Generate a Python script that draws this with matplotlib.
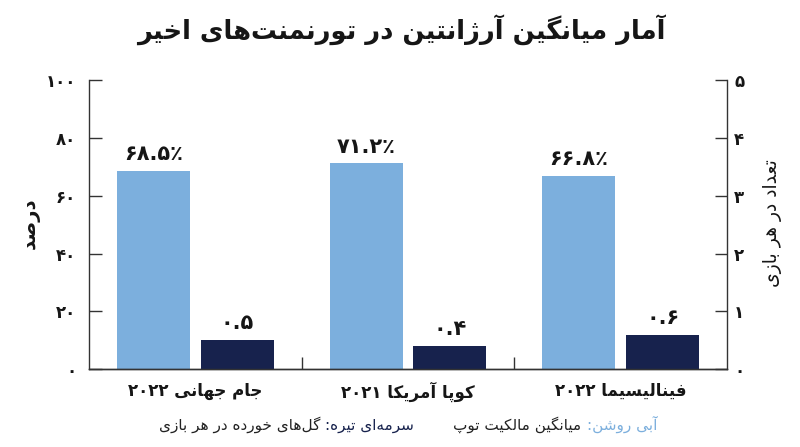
import re
import matplotlib
matplotlib.use('Agg')
import matplotlib.pyplot as plt
from matplotlib.ticker import FuncFormatter, FixedLocator
from matplotlib.offsetbox import TextArea, HPacker, AnchoredOffsetbox

# matplotlib does no Arabic shaping, so pick presentation forms by hand
# (isolated, final, initial, medial); None = letter never joins forward
FORMS = {
    '\u0622': ('\uFE81', '\uFE82', None, None),
    '\u0627': ('\uFE8D', '\uFE8E', None, None),
    '\u0628': ('\uFE8F', '\uFE90', '\uFE91', '\uFE92'),
    '\u067E': ('\uFB56', '\uFB57', '\uFB58', '\uFB59'),
    '\u062A': ('\uFE95', '\uFE96', '\uFE97', '\uFE98'),
    '\u062C': ('\uFE9D', '\uFE9E', '\uFE9F', '\uFEA0'),
    '\u062E': ('\uFEA5', '\uFEA6', '\uFEA7', '\uFEA8'),
    '\u062F': ('\uFEA9', '\uFEAA', None, None),
    '\u0631': ('\uFEAD', '\uFEAE', None, None),
    '\u0632': ('\uFEAF', '\uFEB0', None, None),
    '\u0698': ('\uFB8A', '\uFB8B', None, None),
    '\u0633': ('\uFEB1', '\uFEB2', '\uFEB3', '\uFEB4'),
    '\u0634': ('\uFEB5', '\uFEB6', '\uFEB7', '\uFEB8'),
    '\u0635': ('\uFEB9', '\uFEBA', '\uFEBB', '\uFEBC'),
    '\u0639': ('\uFEC9', '\uFECA', '\uFECB', '\uFECC'),
    '\u0641': ('\uFED1', '\uFED2', '\uFED3', '\uFED4'),
    '\u06A9': ('\uFB8E', '\uFB8F', '\uFB90', '\uFB91'),
    '\u06AF': ('\uFB92', '\uFB93', '\uFB94', '\uFB95'),
    '\u0644': ('\uFEDD', '\uFEDE', '\uFEDF', '\uFEE0'),
    '\u0645': ('\uFEE1', '\uFEE2', '\uFEE3', '\uFEE4'),
    '\u0646': ('\uFEE5', '\uFEE6', '\uFEE7', '\uFEE8'),
    '\u0647': ('\uFEE9', '\uFEEA', '\uFEEB', '\uFEEC'),
    '\u0648': ('\uFEED', '\uFEEE', None, None),
    '\u06CC': ('\uFBFC', '\uFBFD', '\uFBFE', '\uFBFF'),
}
FA_DIGITS = str.maketrans('0123456789', '۰۱۲۳۴۵۶۷۸۹')
NUM = '0-9\u06F0-\u06F9.\u066A%'


def fa(text):
    text = text.replace('\u064A', '\u06CC').replace('\u0643', '\u06A9')
    out = []
    for i, ch in enumerate(text):
        if ch not in FORMS:
            out.append(ch)
            continue
        prev = text[i - 1] if i > 0 else ''
        nxt = text[i + 1] if i + 1 < len(text) else ''
        join_prev = prev in FORMS and FORMS[prev][2] is not None
        join_next = FORMS[ch][2] is not None and nxt in FORMS
        iso, fin, ini, med = FORMS[ch]
        if join_prev and join_next:
            out.append(med)
        elif join_prev:
            out.append(fin)
        elif join_next:
            out.append(ini)
        else:
            out.append(iso)
    shaped = ''.join(c for c in out if c != '\u200c')
    runs = re.findall('[' + NUM + ']+|[^' + NUM + ']+', shaped)
    vis = [r if re.match('[' + NUM + ']', r) else r[::-1] for r in runs]
    return ''.join(reversed(vis))


def fa_num(v):
    return str(v).translate(FA_DIGITS)


# data
title = 'آمار میانگین آرژانتین در تورنمنت‌های اخیر'
categories = ['جام جهانی ۲۰۲۲', 'کوپا آمریکا ۲۰۲۱', 'فینالیسیما ۲۰۲۲']
possession = [68.5, 71.2, 66.8]          # percent, left axis
goals_conceded = [0.5, 0.4, 0.6]         # per match, right axis
left_label = 'درصد'
right_label = 'تعداد در هر بازی'
legend_light = ('آبی روشن:', 'میانگین مالکیت توپ')
legend_dark = ('سرمه‌ای تیره:', 'گل‌های خورده در هر بازی')

light = '#7CAFDD'
navy = '#17224D'
ink = '#161616'

plt.rcParams['font.family'] = ['DejaVu Sans']

fig = plt.figure(figsize=(8, 4.47), dpi=100)
ax = fig.add_axes([0.111, 0.174, 0.798, 0.647])
ax2 = ax.twinx()

x = list(range(len(categories)))
w = 0.343
off = 0.197
ax.bar([i - off for i in x], possession, width=w, color=light, zorder=2)
ax2.bar([i + off for i in x], goals_conceded, width=w, color=navy, zorder=2)

for i, v in zip(x, possession):
    ax.text(i - off, v + 2.3, fa_num(v) + '\u066A', ha='center', va='bottom',
            fontsize=15, fontweight='bold', color=ink)
for i, v in zip(x, goals_conceded):
    ax2.text(i + off, v + 0.12, fa_num(v), ha='center', va='bottom',
             fontsize=15, fontweight='bold', color=ink)

ax.set_xlim(-0.5, 2.5)
ax.set_ylim(0, 100)
ax2.set_ylim(0, 5)

ax.set_yticks([0, 20, 40, 60, 80, 100])
ax2.set_yticks([0, 1, 2, 3, 4, 5])
ax.yaxis.set_major_formatter(FuncFormatter(lambda v, p: fa_num(int(v))))
ax2.yaxis.set_major_formatter(FuncFormatter(lambda v, p: fa_num(int(v))))
ax.tick_params(axis='y', direction='in', length=9, width=1, color='#333',
               pad=9, labelsize=12)
ax2.tick_params(axis='y', direction='in', length=9, width=1, color='#333',
                pad=5, labelsize=12)
for t in ax.get_yticklabels() + ax2.get_yticklabels():
    t.set_fontweight('bold')
    t.set_color(ink)

# group separators as major ticks, names as minor labels
ax.xaxis.set_major_locator(FixedLocator([0.5, 1.5]))
ax.xaxis.set_major_formatter(FuncFormatter(lambda v, p: ''))
ax.xaxis.set_minor_locator(FixedLocator(x))
ax.set_xticklabels([fa(c) for c in categories], minor=True,
                   fontsize=12, fontweight='bold', color=ink)
ax.tick_params(axis='x', which='major', direction='in', length=9, width=1,
               color='#333')
ax.tick_params(axis='x', which='minor', length=0, pad=9)

for a in (ax, ax2):
    a.spines['top'].set_visible(False)
    for s in a.spines.values():
        s.set_color('#333')
        s.set_linewidth(1)
ax.spines['right'].set_visible(False)
ax2.spines['left'].set_visible(False)

fig.text(0.502, 0.935, fa(title), ha='center', va='center', fontsize=18.5,
         fontweight='bold', color=ink)
fig.text(0.038, 0.5, fa(left_label), ha='center', va='center', rotation=90,
         fontsize=14, fontweight='bold', color=ink)
fig.text(0.966, 0.5, fa(right_label), ha='center', va='center', rotation=90,
         fontsize=13.5, color=ink)

tp = dict(fontsize=11, color='#222')
dark_grp = HPacker(children=[TextArea(fa(legend_dark[1]), textprops=tp),
                             TextArea(fa(legend_dark[0]), textprops=dict(tp, color=navy))],
                   sep=4, align='baseline', pad=0)
light_grp = HPacker(children=[TextArea(fa(legend_light[1]), textprops=tp),
                              TextArea(fa(legend_light[0]), textprops=dict(tp, color=light))],
                    sep=4, align='baseline', pad=0)
box = HPacker(children=[dark_grp, light_grp], sep=28, align='baseline', pad=0)
anch = AnchoredOffsetbox(loc='center', child=box, frameon=False, pad=0,
                         bbox_to_anchor=(0.51, 0.05), bbox_transform=fig.transFigure)
fig.add_artist(anch)

fig.savefig('out.png', dpi=100)
